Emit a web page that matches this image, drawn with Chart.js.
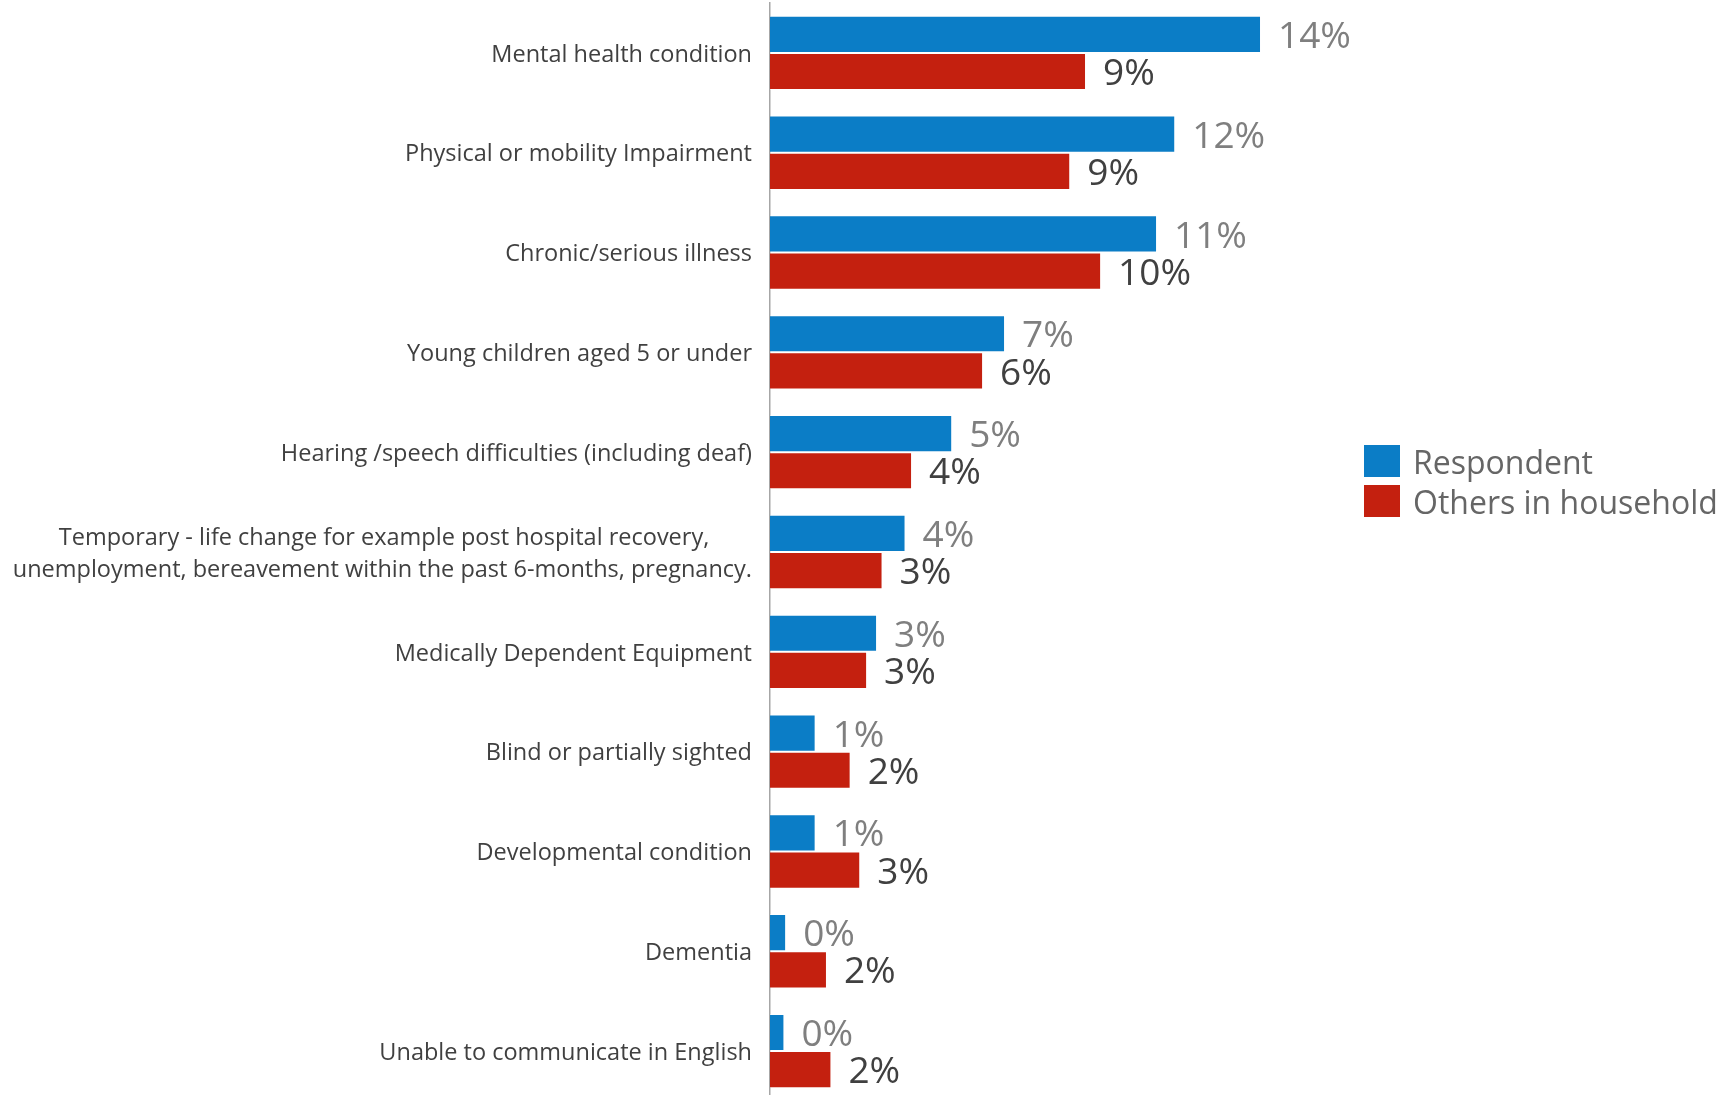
<!DOCTYPE html>
<html>
<head>
<meta charset="utf-8">
<title>Support needs</title>
<script src="https://cdn.jsdelivr.net/npm/chart.js@4"></script>
<style>
  html, body { margin: 0; padding: 0; background: #fff; overflow: hidden; }
  #wrap { position: relative; width: 1729px; height: 1104px; }
  #legend { position: absolute; left: 1364px; top: 441px; font-family: "Open Sans", sans-serif; font-size: 32px; color: #666666; }
  #legend div { display: flex; align-items: center; height: 40px; }
  #legend span.box { display: inline-block; width: 36px; height: 32px; margin-right: 13px; }
</style>
</head>
<body>
<div id="wrap">
  <canvas id="chart" width="1729" height="1104"></canvas>
  <div id="legend"></div>
</div>
<script>
const categories = [
    'Mental health condition',
    'Physical or mobility Impairment',
    'Chronic/serious illness',
    'Young children aged 5 or under',
    'Hearing /speech difficulties (including deaf)',
    ['Temporary - life change for example post hospital recovery,', 'unemployment, bereavement within the past 6-months, pregnancy.'],
    'Medically Dependent Equipment',
    'Blind or partially sighted',
    'Developmental condition',
    'Dementia',
    'Unable to communicate in English'
];

// percentages of people reporting each need
const respondent = [14.31, 11.81, 11.28, 6.85, 5.31, 3.95, 3.12, 1.33, 1.33, 0.47, 0.42];
const othersInHousehold = [9.21, 8.75, 9.65, 6.21, 4.14, 3.28, 2.83, 2.35, 2.63, 1.66, 1.79];

const seriesNames = ['Respondent', 'Others in household'];
const barColours = ['#0B7DC6', '#C4200F'];
const labelColours = ['#7F7F7F', '#404040'];

const tickFont = '"Open Sans", sans-serif';
const tickSize = 23.5;

Chart.defaults.font.family = tickFont;

// pad the lines of a wrapped label so they sit centred on each other
const measureCtx = document.createElement('canvas').getContext('2d');
measureCtx.font = tickSize + 'px ' + tickFont;
function centreLines(lines) {
    const widths = lines.map((l) => measureCtx.measureText(l).width);
    const widest = Math.max(...widths);
    const space = measureCtx.measureText(' ').width;
    return lines.map((l, k) => l + ' '.repeat(Math.round((widest - widths[k]) / 2 / space)));
}

// value labels to the right of every bar
const valueLabels = {
    id: 'valueLabels',
    afterDatasetsDraw(chart) {
        const ctx = chart.ctx;
        chart.data.datasets.forEach((ds, i) => {
            const meta = chart.getDatasetMeta(i);
            ctx.save();
            ctx.font = '37px "Open Sans"';
            ctx.fillStyle = labelColours[i];
            ctx.textBaseline = 'middle';
            meta.data.forEach((bar, j) => {
                ctx.fillText(Math.round(ds.data[j]) + '%', bar.x + 17, bar.y + 3);
            });
            ctx.restore();
        });
    }
};

new Chart(document.getElementById('chart'), {
    type: 'bar',
    data: {
        labels: categories,
        datasets: [
            { label: seriesNames[0], data: respondent, backgroundColor: barColours[0],
              borderColor: 'rgba(255,255,255,0.35)', borderWidth: 1 },
            { label: seriesNames[1], data: othersInHousehold, backgroundColor: barColours[1],
              borderColor: 'rgba(255,255,255,0.35)', borderWidth: 1 }
        ]
    },
    options: {
        indexAxis: 'y',
        responsive: false,
        animation: false,
        categoryPercentage: 0.745,
        barPercentage: 1.0,
        layout: { padding: { top: 3, bottom: 3, left: 0, right: 410 } },
        plugins: {
            legend: { display: false },
            tooltip: { enabled: false }
        },
        scales: {
            x: { display: false, min: 0, max: 16 },
            y: {
                grid: { display: false },
                border: { display: true, color: '#A6A6A6', width: 1.5 },
                ticks: {
                    color: '#404040',
                    padding: 10,
                    labelOffset: 2,
                    font: { size: tickSize, lineHeight: 1.36 },
                    callback(value) {
                        const label = this.getLabelForValue(value);
                        return Array.isArray(label) ? centreLines(label) : label;
                    }
                },
                afterFit(scale) {
                    // fixed axis width, and no extra room for the end labels
                    scale.width = 770;
                    scale.paddingTop = 0;
                    scale.paddingBottom = 0;
                }
            }
        }
    },
    plugins: [valueLabels]
});

const legend = document.getElementById('legend');
seriesNames.forEach((name, i) => {
    const row = document.createElement('div');
    row.innerHTML = '<span class="box" style="background:' + barColours[i] + '"></span>' + name;
    legend.appendChild(row);
});
</script>
</body>
</html>
